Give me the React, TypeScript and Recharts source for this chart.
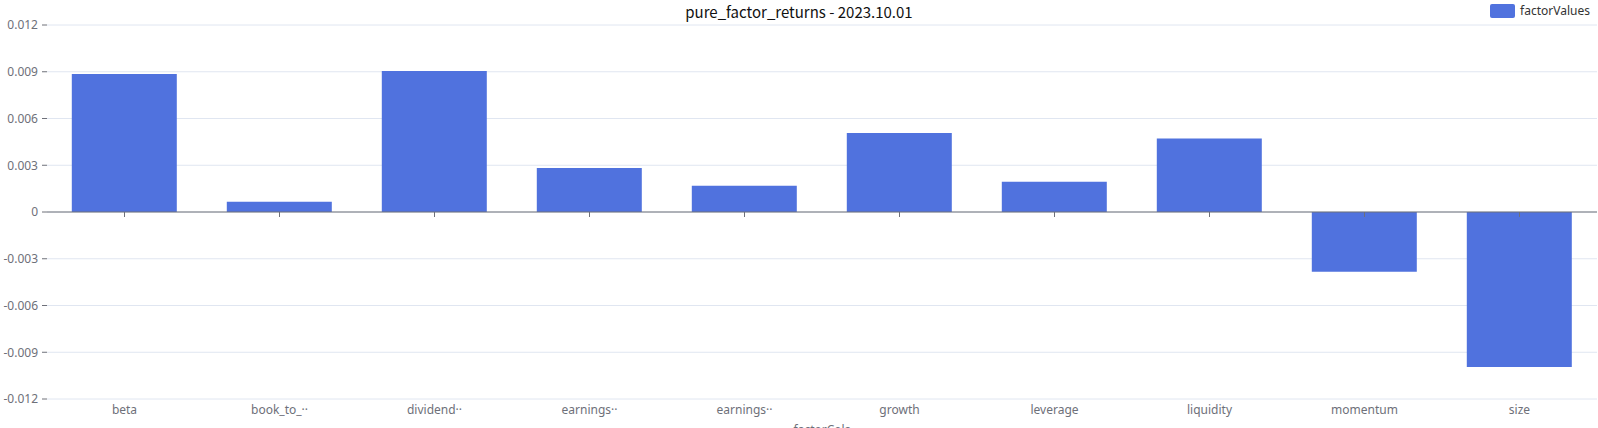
import React from 'react';
import { BarChart, Bar, XAxis, YAxis, CartesianGrid, ReferenceLine } from 'recharts';

const categories = ['beta', 'book_to_price', 'dividend_yield', 'earnings_quality', 'earnings_yield', 'growth', 'leverage', 'liquidity', 'momentum', 'size'];
const tickLabels = ['beta', 'book_to_··', 'dividend··', 'earnings··', 'earnings··', 'growth', 'leverage', 'liquidity', 'momentum', 'size'];
const factorValues = [0.00886, 0.00066, 0.00905, 0.00282, 0.00169, 0.00507, 0.00194, 0.00472, -0.00383, -0.00995];
const yTicks = [-0.012, -0.009, -0.006, -0.003, 0, 0.003, 0.006, 0.009, 0.012];

const data = categories.map((c, i) => ({ factorCols: c, factorValues: factorValues[i] }));

const FONT = '"Noto Sans", "Noto Sans CJK SC", "Microsoft YaHei", sans-serif';
const BAR_COLOR = '#5072de';
const AXIS_COLOR = '#6E7079';

const fmtY = (v: number) => (v === 0 ? '0' : v.toFixed(3));

export default function App() {
  return (
    <div style={{ position: 'absolute', left: 0, top: 0, width: 1598, height: 428, fontFamily: FONT, background: '#fff' }}>
      <div
        style={{
          position: 'absolute',
          left: 0,
          top: 1,
          width: 1598,
          textAlign: 'center',
          fontSize: 15,
          color: '#111',
          lineHeight: '22px',
          fontFamily: '"Noto Sans CJK SC", sans-serif',
          zIndex: 2,
        }}
      >
        pure_factor_returns - 2023.10.01
      </div>
      <div
        style={{
          position: 'absolute',
          right: 8,
          top: 4,
          display: 'flex',
          alignItems: 'center',
          fontSize: 12,
          color: '#333',
          lineHeight: '14px',
          zIndex: 2,
        }}
      >
        <svg width={25} height={14} style={{ marginRight: 5, display: 'block' }}>
          <rect x={0} y={0} width={25} height={14} rx={2} fill={BAR_COLOR} />
        </svg>
        <span>factorValues</span>
      </div>
      <BarChart
        width={1598}
        height={428}
        data={data}
        margin={{ top: 25, right: 1, bottom: 0, left: 0 }}
        barCategoryGap="16%"
      >
        <CartesianGrid vertical={false} stroke="#E0E6F1" />
        <XAxis
          dataKey="factorCols"
          height={29}
          axisLine={false}
          tickLine={false}
          tickSize={0}
          tickMargin={6}
          interval={0}
          tick={{ fill: AXIS_COLOR, fontSize: 12 }}
          tickFormatter={(_v: string, i: number) => tickLabels[i]}
          label={{ value: 'factorCols', position: 'insideBottom', offset: -6, fill: AXIS_COLOR, fontSize: 12 }}
        />
        <YAxis
          width={47}
          domain={[-0.012, 0.012]}
          ticks={yTicks}
          axisLine={false}
          tickLine={{ stroke: AXIS_COLOR }}
          tickSize={5}
          tickMargin={4}
          tick={{ fill: AXIS_COLOR, fontSize: 12 }}
          tickFormatter={fmtY}
          interval={0}
        />
        {categories.map((c) => (
          <ReferenceLine
            key={c}
            segment={[{ x: c, y: 0 }, { x: c, y: -0.00032 }]}
            stroke={AXIS_COLOR}
            strokeWidth={1}
          />
        ))}
        <Bar dataKey="factorValues" fill={BAR_COLOR} isAnimationActive={false} />
        <ReferenceLine y={0} stroke={AXIS_COLOR} strokeWidth={1} />
      </BarChart>
    </div>
  );
}
